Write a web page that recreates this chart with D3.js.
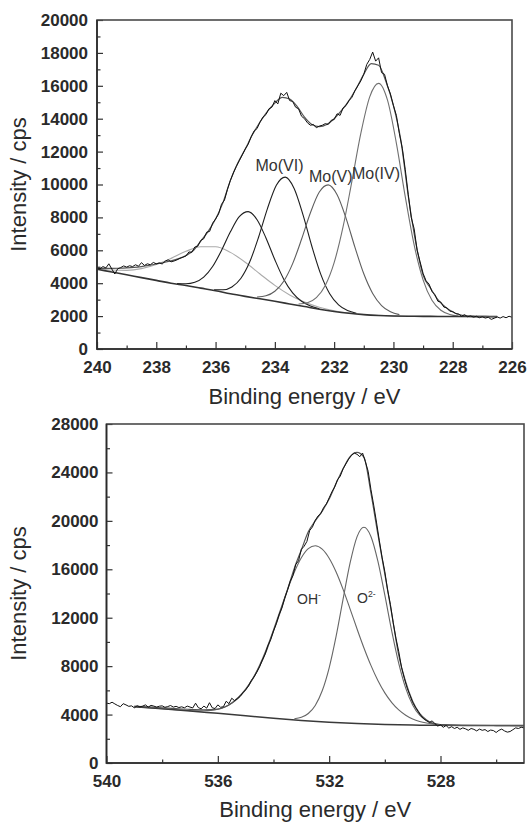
<!DOCTYPE html>
<html>
<head>
<meta charset="utf-8">
<script src="https://cdn.jsdelivr.net/npm/d3@7"></script>
<style>
  body { margin: 0; background: #fff; }
  svg { display: block; }
  text { font-family: "Liberation Sans", Arial, Helvetica, sans-serif; }
</style>
</head>
<body>
<svg id="chart" width="528" height="825"></svg>
<script>
// ---------- Mo 3d region ----------
const moRawStart = 240, moRawStep = 0.1;
const moRaw = [
  4950,4870,5010,4930,5180,4860,4560,4880,4950,5050,
  4980,5060,5010,5120,5030,5250,5080,5180,5120,5260,
  5180,5230,5170,5340,5420,5300,5350,5420,5510,5580,
  5650,5900,5880,6200,6250,6600,6700,7100,7150,7650,
  7900,8200,8800,9050,9700,10250,10700,11100,11450,11800,
  12150,12450,12900,13250,13400,13800,14100,14250,14600,14700,
  15100,14900,15550,15400,15600,15100,15050,14700,14600,14150,
  14000,13750,13600,13650,13450,13550,13600,13700,13650,13900,
  13950,14300,14200,14650,14800,15100,15300,15700,16000,16300,
  16700,17300,17600,18050,17500,17700,16800,16700,16000,15500,
  14800,14200,13100,12200,10900,9400,8000,7300,6000,5300,
  4600,4150,3950,3500,3300,2900,2850,2550,2500,2300,
  2280,2150,2120,2000,2090,1960,2010,1940,1990,1900,
  1960,1880,1930,1800,1870,1950,1880,1970,1900,1990,
  1930
];
const moBgE = [240,239.5,239,238.5,238,237.5,237,236.5,236,235.5,235,234.5,234,233.5,233,232.5,232,231.5,231,230.5,230,229.5,229,228.5,228,227.5,227,226.5];
const moBgI = [4850,4680,4510,4340,4170,4000,3860,3700,3540,3360,3200,3050,2900,2740,2580,2420,2280,2170,2090,2040,2010,1995,1985,1980,1975,1972,1970,1970];
const moEnvE = [240,239.75,239.5,239.25,239,238.75,238.5,238.25,238,237.75,237.5,237.25,237,236.75,236.5,236.25,236,235.75,235.5,235.25,235,234.75,234.5,234.25,234,233.75,233.5,233.25,233,232.75,232.5,232.25,232,231.75,231.5,231.25,231,230.75,230.5,230.25,230,229.75,229.5,229.25,229,228.75,228.5,228.25,228,227.75,227.5,227.25,227,226.75,226.5];
const moEnvI = [4900,4900,4900,4910,4930,4960,5010,5080,5170,5260,5360,5490,5680,5990,6560,7150,7900,8900,10250,11300,12150,13050,13800,14450,14950,15300,15200,14750,14100,13650,13520,13650,14000,14500,15100,15850,16700,17350,17250,16250,14800,12700,9300,6500,4500,3700,3000,2550,2250,2080,2010,1990,1980,1975,1972];
// broad satellite near 236 eV
const moSatE = [240,239.5,239,238.5,238,237.5,237,236.5,236,235.5,235,234.5,234,233.5,233,232.5,232,231.5,231,230,229,228,227,226.5];
const moSatI = [4895,4798,4780,4884,5136,5509,5937,6214,6220,5874,5277,4559,3866,3284,2850,2538,2325,2185,2094,2010,1985,1975,1970,1970];
// doublet partner near 234.9 eV
const moPk2E = [237.3,237.0,236.7,236.4,236.1,235.8,235.5,235.2,234.9,234.6,234.3,234.0,233.7,233.4,233.1,232.8,232.5];
const moPk2I = [3975,3963,4055,4369,5012,5991,7121,8045,8350,7861,6751,5423,4244,3409,2903,2619,2451];
// Mo(VI)
const moVIE = [236.05,235.75,235.45,235.15,234.85,234.55,234.25,233.95,233.65,233.35,233.05,232.75,232.45,232.15,231.85,231.55,231.25];
const moVII = [3602,3602,3774,4284,5284,6795,8536,9954,10448,9762,8157,6230,4535,3358,2677,2333,2176];
// Mo(V)
const moVE = [234.6,234.3,234.0,233.7,233.4,233.1,232.8,232.5,232.2,231.9,231.6,231.3,231.0,230.7,230.4,230.1,229.8];
const moVI_ = [3165,3234,3508,4121,5189,6669,8284,9540,9976,9378,7960,6195,4571,3377,2642,2260,2089];
// Mo(IV)
const moIVE = [233.2,232.9,232.6,232.3,232.0,231.7,231.4,231.1,230.8,230.5,230.2,229.9,229.6,229.3,229.0,228.7,228.4,228.1,227.8];
const moIVI = [2735,2810,3118,3861,5252,7421,10208,13105,15328,16150,15126,12504,9249,6313,4206,2965,2356,2100,2004];

const moXTicks = [240,238,236,234,232,230,228,226];
const moXMinor = [239,237,235,233,231,229,227];
const moYTicks = [0,2000,4000,6000,8000,10000,12000,14000,16000,18000,20000];
const moYMinor = [1000,3000,5000,7000,9000,11000,13000,15000,17000,19000];

// ---------- O 1s region ----------
const oRawStart = 540, oRawStep = 0.1;
const oRaw = [
  4950,4900,5020,4880,4750,4650,4900,4800,4680,4720,
  4560,4730,4640,4700,4800,4620,4760,4700,4620,4690,
  4720,4600,4660,4750,4620,4680,4580,4640,4560,4700,
  4620,4550,4940,4570,4480,4700,4530,4980,4560,4500,
  4800,4600,4650,5100,4900,5350,5150,5300,5500,5800,
  6050,6350,6800,7100,7500,7950,8500,9000,9700,10200,
  10900,11500,12250,12800,13600,14250,15000,15500,16400,16700,
  17650,17900,18300,19200,19500,20050,20400,20600,21100,21400,
  21900,22400,22800,23400,23700,24300,24700,25100,25400,25600,
  25500,25300,25600,24900,24100,22600,21300,19900,18400,17000,
  15800,14300,13100,11600,10300,9200,7900,7000,6200,5600,
  5000,4600,4250,3900,3650,3500,3350,3480,3250,3050,
  3150,2950,3100,2880,3000,2850,2950,2780,2900,2820,
  2700,2850,2780,2650,2800,2700,2760,2600,2720,2680,
  2520,2700,2800,2650,2550,2600,2750,2900,2850,2950,
  2900
];
const oBgE = [539,538,537,536,535,534,533,532,531,530,529,528,527,526,525];
const oBgI = [4650,4480,4300,4100,3900,3700,3520,3370,3260,3180,3130,3110,3100,3095,3090];
const oEnvE = [539,538.5,538,537.5,537,536.5,536,535.75,535.5,535.25,535,534.75,534.5,534.25,534,533.75,533.5,533.25,533,532.75,532.5,532.25,532,531.75,531.5,531.25,531,530.75,530.5,530.25,530,529.75,529.5,529.25,529,528.75,528.5,528.25,528,527.5,527,526,525];
const oEnvI = [4700,4630,4560,4490,4430,4400,4450,4620,4950,5450,6100,6950,8000,9300,10900,12500,14300,16100,17600,19100,20000,20800,21800,23100,24300,25300,25650,25250,22300,18900,15600,12300,8900,6700,5100,4100,3550,3250,3150,3110,3100,3095,3090];
// OH-
const ohE = [539,538,537,536.75,536.5,536.25,536,535.75,535.5,535.25,535,534.75,534.5,534.25,534,533.75,533.5,533.25,533,532.75,532.5,532.25,532,531.75,531.5,531.25,531,530.75,530.5,530.25,530,529.75,529.5,529.25,529,528.75,528.5,528.25,528,527.5,527,526,525];
const ohI = [4650,4480,4329,4308,4310,4349,4445,4627,4930,5393,6054,6944,8079,9448,11000,12660,14300,15778,16959,17712,17950,17666,16913,15774,14339,12735,11085,9502,8062,6818,5792,4991,4384,3944,3633,3431,3300,3217,3167,3110,3100,3095,3090];
// O2-
const oxE = [533.25,533,532.75,532.5,532.25,532,531.75,531.5,531.25,531,530.75,530.5,530.25,530,529.75,529.5,529.25,529,528.75,528.5,528.25,528,527.5,527,526,525];
const oxI = [3661,3773,4090,4755,5963,7866,10478,13540,16499,18679,19470,18713,16671,13859,10880,8237,6189,4795,3954,3497,3271,3170,3105,3100,3095,3090];

const oXTicks = [540,536,532,528];
const oXMinor = [538,534,530,526];
const oYTicks = [0,4000,8000,12000,16000,20000,24000,28000];
const oYMinor = [2000,6000,10000,14000,18000,22000,26000];

const svg = d3.select("#chart");

function drawPanel(p) {
  const [x0, x1] = p.xRange, [y0, y1] = p.yRange;
  const x = d3.scaleLinear().domain(p.xDomain).range(p.xRange);
  const y = d3.scaleLinear().domain(p.yDomain).range(p.yRange);
  const g = svg.append("g");

  const clipId = "clip-" + p.id;
  svg.append("clipPath").attr("id", clipId)
    .append("rect").attr("x", x0).attr("y", y1).attr("width", x1 - x0).attr("height", y0 - y1);

  const smooth = d3.line().x(d => x(d[0])).y(d => y(d[1])).curve(d3.curveMonotoneX);
  const straight = d3.line().x(d => x(d[0])).y(d => y(d[1]));

  const plot = g.append("g").attr("clip-path", `url(#${clipId})`);
  p.fits.forEach(f => {
    plot.append("path")
      .datum(d3.zip(f.e, f.i))
      .attr("d", smooth)
      .attr("fill", "none")
      .attr("stroke", f.color)
      .attr("stroke-width", f.width || 1.1);
  });
  plot.append("path")
    .datum(p.raw.map((v, k) => [p.rawStart - k * p.rawStep, v]))
    .attr("d", straight)
    .attr("fill", "none")
    .attr("stroke", "#111")
    .attr("stroke-width", 1)
    .attr("stroke-linejoin", "round");

  // axes: ticks point inward
  const xMajor = d3.axisBottom(x).tickValues(p.xTicks).tickSize(-7).tickPadding(12).tickFormat(d3.format("d"));
  const xMinorAxis = d3.axisBottom(x).tickValues(p.xMinor).tickSize(-3.5).tickFormat("");
  const yMajor = d3.axisLeft(y).tickValues(p.yTicks).tickSize(-6).tickPadding(p.yPad).tickFormat(d3.format("d"));
  const yMinorAxis = d3.axisLeft(y).tickValues(p.yMinor).tickSize(-3.5).tickFormat("");

  const axes = [
    g.append("g").attr("transform", `translate(0,${y0})`).call(xMajor),
    g.append("g").attr("transform", `translate(0,${y0})`).call(xMinorAxis),
    g.append("g").attr("transform", `translate(${x0},0)`).call(yMajor),
    g.append("g").attr("transform", `translate(${x0},0)`).call(yMinorAxis)
  ];
  axes.forEach(a => {
    a.select(".domain").remove();
    a.selectAll(".tick line").attr("stroke", "#333").attr("stroke-width", 1.2);
    a.selectAll(".tick text")
      .attr("fill", "#2a2a2a")
      .style("font-size", "17px")
      .style("font-weight", "bold")
      .style("font-family", '"Liberation Sans", Arial, sans-serif');
  });

  // frame
  g.append("rect").attr("x", x0).attr("y", y1).attr("width", x1 - x0).attr("height", y0 - y1)
    .attr("fill", "none").attr("stroke", "#4a4a4a").attr("stroke-width", 1.6);
  g.append("path").attr("d", `M${x0},${y1}V${y0}H${x1}`)
    .attr("fill", "none").attr("stroke", "#2a2a2a").attr("stroke-width", 1.6);

  // axis titles
  g.append("text")
    .attr("x", (x0 + x1) / 2).attr("y", y0 + p.xTitleDy)
    .attr("text-anchor", "middle")
    .attr("fill", "#2a2a2a")
    .style("font-size", "22px")
    .text("Binding energy / eV");
  g.append("text")
    .attr("transform", `translate(26,${(y0 + y1) / 2}) rotate(-90)`)
    .attr("text-anchor", "middle")
    .attr("fill", "#2a2a2a")
    .style("font-size", "22px")
    .text("Intensity / cps");

  p.labels.forEach(l => {
    const t = g.append("text")
      .attr("x", l.x).attr("y", l.y)
      .attr("fill", "#333")
      .style("font-size", l.size + "px")
      .text(l.text);
    if (l.sup) {
      t.append("tspan")
        .attr("dy", -l.size * 0.45)
        .style("font-size", (l.size * 0.62) + "px")
        .text(l.sup);
    }
  });
}

drawPanel({
  id: "mo",
  xDomain: [240, 226], xRange: [97, 512],
  yDomain: [0, 20000], yRange: [349, 20],
  yPad: 9, xTitleDy: 55,
  xTicks: moXTicks, xMinor: moXMinor, yTicks: moYTicks, yMinor: moYMinor,
  raw: moRaw, rawStart: moRawStart, rawStep: moRawStep,
  fits: [
    { e: moSatE, i: moSatI, color: "#ababab" },
    { e: moPk2E, i: moPk2I, color: "#1e1e1e" },
    { e: moVIE, i: moVII, color: "#1e1e1e" },
    { e: moVE, i: moVI_, color: "#5e5e5e" },
    { e: moIVE, i: moIVI, color: "#707070" },
    { e: moBgE, i: moBgI, color: "#333", width: 1.6 },
    { e: moEnvE, i: moEnvI, color: "#555", width: 1.2 }
  ],
  labels: [
    { text: "Mo(VI)", x: 255.5, y: 170.5, size: 16 },
    { text: "Mo(V)", x: 309, y: 182, size: 16 },
    { text: "Mo(IV)", x: 352, y: 179, size: 16 }
  ]
});

drawPanel({
  id: "o",
  xDomain: [540, 525], xRange: [106.5, 524],
  yDomain: [0, 28000], yRange: [763, 424],
  yPad: 8, xTitleDy: 54,
  xTicks: oXTicks, xMinor: oXMinor, yTicks: oYTicks, yMinor: oYMinor,
  raw: oRaw, rawStart: oRawStart, rawStep: oRawStep,
  fits: [
    { e: ohE, i: ohI, color: "#666" },
    { e: oxE, i: oxI, color: "#666" },
    { e: oBgE, i: oBgI, color: "#3a3a3a", width: 1.5 },
    { e: oEnvE, i: oEnvI, color: "#555", width: 1.2 }
  ],
  labels: [
    { text: "OH", sup: "-", x: 297, y: 604, size: 14 },
    { text: "O", sup: "2-", x: 357, y: 603, size: 14 }
  ]
});
</script>
</body>
</html>
